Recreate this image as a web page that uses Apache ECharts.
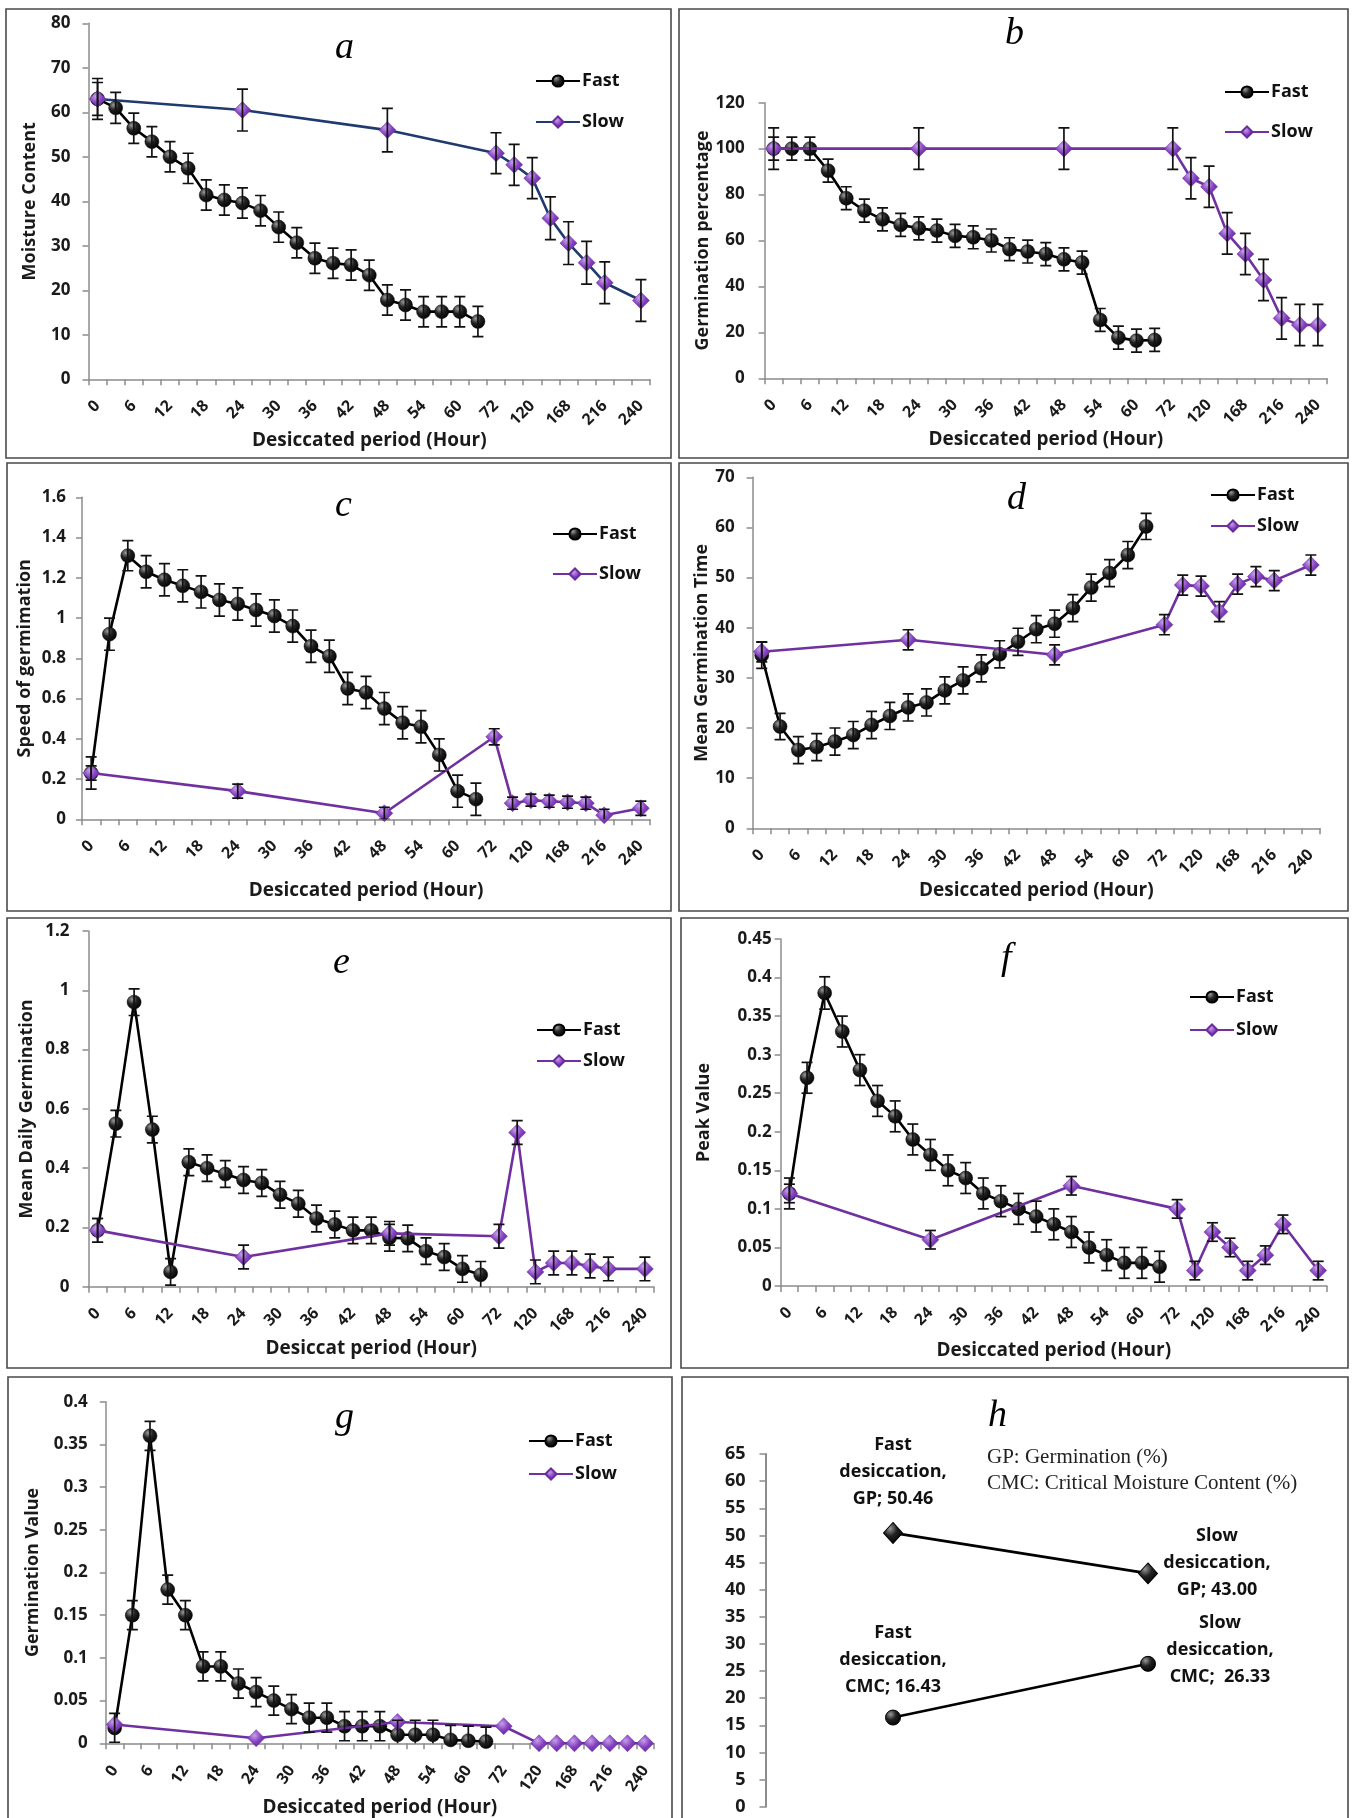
<!DOCTYPE html>
<html><head><meta charset="utf-8">
<script src="https://cdn.jsdelivr.net/npm/echarts@6/dist/echarts.min.js"></script>
<style>html,body{margin:0;padding:0;background:#fff}#c{width:1354px;height:1818px}</style>
</head><body><div id="c"></div>
<script>
const N = null;
// x categories (hours); every other label is shown
const hours = ['0','3','6','9','12','15','18','21','24','27','30','33','36','39','42','45','48','51','54','57','60','63','72','96','120','144','168','192','216','228','240'];

// a: Moisture content
const fastA = [63,61,56.4,53.4,50,47.4,41.4,40.3,39.6,37.9,34.2,30.7,27.2,26.1,25.7,23.4,17.8,16.7,15.2,15.2,15.2,13.0];
const slowA = [63,N,N,N,N,N,N,N,60.5,N,N,N,N,N,N,N,56.0,N,N,N,N,N,50.8,48.2,45.2,36.2,30.6,26.2,21.7,N,17.7];
const errFastA = [3.7,3.5,3.4,3.4,3.4,3.4,3.4,3.4,3.4,3.4,3.4,3.4,3.4,3.4,3.4,3.4,3.4,3.4,3.4,3.4,3.4,3.4];
const errSlowA = [4.6,4.7,4.9,4.6,4.6,4.6,4.8,4.8,4.8,4.7,4.7];
// b: Germination percentage
const fastB = [100,100,100,90.4,78.4,73.0,69.2,66.8,65.3,64.3,62.0,61.4,60.0,56.2,55.2,54.1,51.8,50.4,25.4,17.7,16.4,16.7];
const slowB = [100,N,N,N,N,N,N,N,100,N,N,N,N,N,N,N,100,N,N,N,N,N,100,87.1,83.4,63.1,54.1,42.8,26.1,23.2,23.2];
const errFastB = [5,5,5,5,5,5,5,5,5,5,5,5,5,5,5,5,5,5,5,5,5,5];
const errSlowB = [9,9,9,9,9,9,9,9,9,9,9,9];
// c: Speed of germination
const fastC = [0.23,0.92,1.31,1.23,1.19,1.16,1.13,1.09,1.07,1.04,1.01,0.96,0.86,0.81,0.65,0.63,0.55,0.48,0.46,0.32,0.14,0.10];
const slowC = [0.23,N,N,N,N,N,N,N,0.14,N,N,N,N,N,N,N,0.03,N,N,N,N,N,0.41,0.08,0.095,0.09,0.085,0.08,0.02,N,0.055];
const errFastC = [0.08,0.08,0.075,0.08,0.08,0.08,0.08,0.08,0.08,0.08,0.08,0.08,0.08,0.08,0.08,0.08,0.08,0.08,0.08,0.08,0.08,0.08];
const errSlowC = [0.035,0.035,0.03,0.04,0.03,0.03,0.03,0.03,0.03,0.03,0.035];
// d: Mean germination time
const fastD = [34.5,20.3,15.6,16.2,17.3,18.6,20.6,22.4,24.1,25.1,27.5,29.5,31.9,34.7,37.2,39.7,40.8,43.9,48.0,50.9,54.5,60.2];
const slowD = [35.2,N,N,N,N,N,N,N,37.6,N,N,N,N,N,N,N,34.6,N,N,N,N,N,40.6,48.5,48.3,43.2,48.7,50.2,49.4,N,52.5];
const errFastD = [2.6,2.6,2.7,2.7,2.7,2.7,2.7,2.7,2.7,2.7,2.7,2.7,2.7,2.7,2.7,2.7,2.7,2.7,2.7,2.7,2.7,2.6];
const errSlowD = [2,2,2,2,2,2,2,2,2,2,2];
// e: Mean daily germination
const fastE = [0.19,0.55,0.96,0.53,0.05,0.42,0.40,0.38,0.36,0.35,0.31,0.28,0.23,0.21,0.19,0.19,0.165,0.163,0.12,0.10,0.06,0.04];
const slowE = [0.19,N,N,N,N,N,N,N,0.10,N,N,N,N,N,N,N,0.18,N,N,N,N,N,0.17,0.52,0.05,0.08,0.08,0.07,0.06,N,0.06];
const errFastE = [0.04,0.045,0.045,0.045,0.045,0.045,0.045,0.045,0.045,0.045,0.045,0.045,0.045,0.045,0.045,0.045,0.045,0.045,0.045,0.045,0.045,0.045];
const errSlowE = [0.04,0.04,0.04,0.04,0.04,0.04,0.04,0.04,0.04,0.04,0.04];
// f: Peak value
const fastF = [0.12,0.27,0.38,0.33,0.28,0.24,0.22,0.19,0.17,0.15,0.14,0.12,0.11,0.10,0.09,0.08,0.07,0.05,0.04,0.03,0.03,0.025];
const slowF = [0.12,N,N,N,N,N,N,N,0.06,N,N,N,N,N,N,N,0.13,N,N,N,N,N,0.10,0.02,0.07,0.05,0.02,0.04,0.08,N,0.02];
const errFastF = [0.02,0.02,0.021,0.02,0.02,0.02,0.02,0.02,0.02,0.02,0.02,0.02,0.02,0.02,0.02,0.02,0.02,0.02,0.02,0.02,0.02,0.02];
const errSlowF = [0.012,0.012,0.012,0.012,0.012,0.012,0.012,0.012,0.012,0.012,0.012];
// g: Germination value
const fastG = [0.018,0.15,0.36,0.18,0.15,0.09,0.09,0.07,0.06,0.05,0.04,0.03,0.03,0.02,0.02,0.02,0.01,0.01,0.01,0.004,0.003,0.002];
const slowG = [0.022,N,N,N,N,N,N,N,0.006,N,N,N,N,N,N,N,0.025,N,N,N,N,N,0.02,N,0,0,0,0,0,0,0];
const errFastG = [0.017,0.017,0.017,0.017,0.017,0.017,0.017,0.017,0.017,0.017,0.017,0.017,0.017,0.017,0.017,0.017,0.017,0.017,0.017,0.017,0.017,0.017];
const errSlowG = [0,0,0,0,0,0,0,0,0,0,0];
// h: GP and CMC
const groupsH = ['Fast','Slow'];
const gpH = [50.46, 43.00];
const cmcH = [16.43, 26.33];
const cmcSepH = ['; ', ';  '];

const FONT = '"Open Sans", Lato, sans-serif';
const SERIF = '"Liberation Serif", "DejaVu Serif", serif';

const panels = [
  {tag:'a', fast:fastA, slow:slowA, ef:errFastA, es:errSlowA, yName:'Moisture Content', xName:'Desiccated period (Hour)', max:80, step:10,
   grid:[88.5,23.3,561.5,356], yGap:50, xGap:50, lm:18, leg:[535,72,23], slowLine:'#1F3A6E', letter:[350,52], rot:45},
  {tag:'b', fast:fastB, slow:slowB, ef:errFastB, es:errSlowB, yName:'Germination percentage', xName:'Desiccated period (Hour)', max:120, step:20,
   grid:[764.6,102.7,562.4,275.6], yGap:52, xGap:51, lm:20, leg:[1224,83,22], slowLine:'#7030A0', letter:[1020,38], rot:45},
  {tag:'c', fast:fastC, slow:slowC, ef:errFastC, es:errSlowC, yName:'Speed of germimation', xName:'Desiccated period (Hour)', max:1.6, step:0.2,
   grid:[82,497.3,568,322], yGap:48, xGap:62, lm:16, leg:[552,525,22], slowLine:'#7030A0', letter:[350,510], rot:45},
  {tag:'d', fast:fastD, slow:slowD, ef:errFastD, es:errSlowD, yName:'Mean Germination Time', xName:'Desiccated period (Hour)', max:70, step:10,
   grid:[752.6,477.3,567.4,351], yGap:41, xGap:53, lm:18, leg:[1210,486,13], slowLine:'#7030A0', letter:[1022,503], rot:45},
  {tag:'e', fast:fastE, slow:slowE, ef:errFastE, es:errSlowE, yName:'Mean Daily Germination', xName:'Desiccat period (Hour)', max:1.2, step:0.2,
   grid:[88.5,931,565.5,355.7], yGap:53, xGap:51, lm:19, leg:[536,1021,13], slowLine:'#7030A0', letter:[348,967], rot:45},
  {tag:'f', fast:fastF, slow:slowF, ef:errFastF, es:errSlowF, yName:'Peak Value', xName:'Desiccated period (Hour)', max:0.45, step:0.05,
   grid:[780.6,939,546.4,347], yGap:68, xGap:55, lm:9, leg:[1189,988,15], slowLine:'#7030A0', letter:[1016,963], rot:45},
  {tag:'g', fast:fastG, slow:slowG, ef:errFastG, es:errSlowG, yName:'Germination Value', xName:'Desiccated period (Hour)', max:0.4, step:0.05,
   grid:[105.8,1401.7,548.2,341.6], yGap:64, xGap:50, lm:18, leg:[528,1432,15], slowLine:'#7030A0', letter:[350,1422], rot:55}
];

const fastMarker = new echarts.graphic.RadialGradient(0.35,0.3,0.75,[{offset:0,color:'#9a9a9a'},{offset:0.45,color:'#222'},{offset:1,color:'#000'}]);
const slowMarker = new echarts.graphic.RadialGradient(0.4,0.35,0.75,[{offset:0,color:'#C7A0EA'},{offset:0.5,color:'#8440C0'},{offset:1,color:'#5E2590'}]);

function errRender(params, api){
  const x = api.value(0), y = api.value(1), e = api.value(2);
  if (!e) return null;
  const c = api.coord([x, y]), t = api.coord([x, y + e]), b = api.coord([x, y - e]);
  const w = 5.5, st = {stroke:'#111', lineWidth:1.7};
  return {type:'group', children:[
    {type:'line', shape:{x1:c[0], y1:t[1], x2:c[0], y2:b[1]}, style:st},
    {type:'line', shape:{x1:c[0]-w, y1:t[1], x2:c[0]+w, y2:t[1]}, style:st},
    {type:'line', shape:{x1:c[0]-w, y1:b[1], x2:c[0]+w, y2:b[1]}, style:st}
  ]};
}
function errData(vals, errs){
  const out = []; let j = 0;
  vals.forEach((v,k) => { if (v !== null && v !== undefined) { out.push([k, v, errs[j]]); j++; } });
  return out;
}

const grids = [], xAxes = [], yAxes = [], series = [], legends = [], graphics = [];
const axisGray = '#8c8c8c';
const labelStyle = {fontFamily:FONT, fontWeight:'bold', fontSize:17, color:'#1a1a1a'};

panels.forEach((p, i) => {
  grids.push({left:p.grid[0], top:p.grid[1], width:p.grid[2], height:p.grid[3], outerBoundsMode:'none', containLabel:false});
  xAxes.push({type:'category', gridIndex:i, data:hours, boundaryGap:true,
    name:p.xName, nameLocation:'middle', nameGap:p.xGap,
    nameTextStyle:{fontFamily:FONT, fontWeight:'bold', fontSize:19, color:'#1a1a1a'},
    axisLine:{lineStyle:{color:axisGray, width:1.5}},
    axisTick:{show:true, interval:0, length:6, lineStyle:{color:axisGray, width:1.5}},
    axisLabel:{interval:1, rotate:p.rot, margin:24, fontSize:16, fontFamily:FONT, fontWeight:'bold', color:'#1a1a1a'},
    splitLine:{show:false}});
  yAxes.push({type:'value', gridIndex:i, min:0, max:p.max, interval:p.step,
    name:p.yName, nameLocation:'middle', nameGap:p.yGap, nameRotate:90,
    nameTextStyle:{fontFamily:FONT, fontWeight:'bold', fontSize:18, color:'#1a1a1a'},
    axisLine:{show:true, lineStyle:{color:axisGray, width:1.5}},
    axisTick:{show:true, length:6, lineStyle:{color:axisGray, width:1.5}},
    axisLabel:Object.assign({margin:p.lm}, labelStyle),
    splitLine:{show:false}});
  series.push({name:'Fast_'+p.tag, type:'line', xAxisIndex:i, yAxisIndex:i, data:p.fast,
    symbol:'circle', symbolSize:14, showAllSymbol:true,
    lineStyle:{color:'#000', width:2.6}, itemStyle:{color:fastMarker, borderColor:'#000', borderWidth:0.5}, z:3});
  series.push({name:'Slow_'+p.tag, type:'line', xAxisIndex:i, yAxisIndex:i, data:p.slow, connectNulls:true,
    symbol:'diamond', symbolSize:[17,17], showAllSymbol:true,
    lineStyle:{color:p.slowLine, width:2.6}, itemStyle:{color:slowMarker, borderColor:'#6A2C9C', borderWidth:0.5}, z:4});
  series.push({type:'custom', xAxisIndex:i, yAxisIndex:i, renderItem:errRender, clip:true, silent:true, z:6,
    data:errData(p.fast, p.ef), encode:{x:0, y:1}});
  series.push({type:'custom', xAxisIndex:i, yAxisIndex:i, renderItem:errRender, clip:true, silent:true, z:6,
    data:errData(p.slow, p.es), encode:{x:0, y:1}});
  legends.push({left:p.leg[0], top:p.leg[1], orient:'vertical', itemGap:p.leg[2], itemWidth:44, itemHeight:14, padding:0,
    data:['Fast_'+p.tag, 'Slow_'+p.tag], formatter:n => n.replace(/_.*/, ''), selectedMode:false,
    textStyle:{fontFamily:FONT, fontWeight:'bold', fontSize:18, color:'#111', padding:[0,0,0,-3]}});
  graphics.push({type:'text', left:p.letter[0]-15, top:p.letter[1]-23, style:{text:p.tag, font:'italic 38px '+SERIF, fill:'#000'}});
});

// panel h
const hi = panels.length;
grids.push({left:765.5, top:1454, width:510, height:352.7, outerBoundsMode:'none', containLabel:false});
xAxes.push({type:'category', gridIndex:hi, data:groupsH, show:false, boundaryGap:true});
yAxes.push({type:'value', gridIndex:hi, min:0, max:65, interval:5,
  axisLine:{show:true, lineStyle:{color:axisGray, width:2}},
  axisTick:{show:true, length:6, lineStyle:{color:axisGray, width:1.5}},
  axisLabel:Object.assign({margin:20}, labelStyle, {fontSize:18}),
  splitLine:{show:false}});
const hLabel = {show:true, position:'inside', align:'center', verticalAlign:'middle', fontFamily:FONT, fontWeight:'bold', fontSize:18, lineHeight:27, color:'#111'};
const gpOff = [[0,-61],[69,-11]], cmcOff = [[0,-58],[72,-14]];
series.push({name:'GP', type:'line', xAxisIndex:hi, yAxisIndex:hi, symbol:'diamond', symbolSize:[19,21],
  lineStyle:{color:'#000', width:2.6}, itemStyle:{color:fastMarker, borderColor:'#000'},
  data:gpH.map((v,k) => ({value:v, label:Object.assign({}, hLabel, {offset:gpOff[k],
    formatter: groupsH[k] + '\ndesiccation,\nGP; ' + v.toFixed(2)})}))});
series.push({name:'CMC', type:'line', xAxisIndex:hi, yAxisIndex:hi, symbol:'circle', symbolSize:15,
  lineStyle:{color:'#000', width:2.6}, itemStyle:{color:fastMarker, borderColor:'#000'},
  data:cmcH.map((v,k) => ({value:v, label:Object.assign({}, hLabel, {offset:cmcOff[k],
    formatter: groupsH[k] + '\ndesiccation,\nCMC' + cmcSepH[k] + v.toFixed(2)})}))});
graphics.push({type:'text', left:988, top:1397, style:{text:'h', font:'italic 38px '+SERIF, fill:'#000'}});
graphics.push({type:'text', left:987, top:1447, style:{text:'GP: Germination (%)', font:'21px '+SERIF, fill:'#222'}});
graphics.push({type:'text', left:987, top:1473, style:{text:'CMC: Critical Moisture Content (%)', font:'21px '+SERIF, fill:'#222'}});

// panel frames
const frames = [[6,9,665,449],[679,9,669,449],[7,463,664,448],[679,463,669,448],[7,918,664,450],[681,918,667,450],[8,1377,664,460],[682,1377,666,460]];
frames.forEach(f => graphics.push({type:'rect', shape:{x:f[0], y:f[1], width:f[2], height:f[3]}, style:{fill:null, stroke:'#4a4a4a', lineWidth:1.6}, z:-1, silent:true}));

const chart = echarts.init(document.getElementById('c'), null, {renderer:'canvas', width:1354, height:1818});
chart.setOption({
  backgroundColor:'#ffffff', animation:false,
  grid:grids, xAxis:xAxes, yAxis:yAxes, series:series, legend:legends, graphic:graphics
});
</script></body></html>
